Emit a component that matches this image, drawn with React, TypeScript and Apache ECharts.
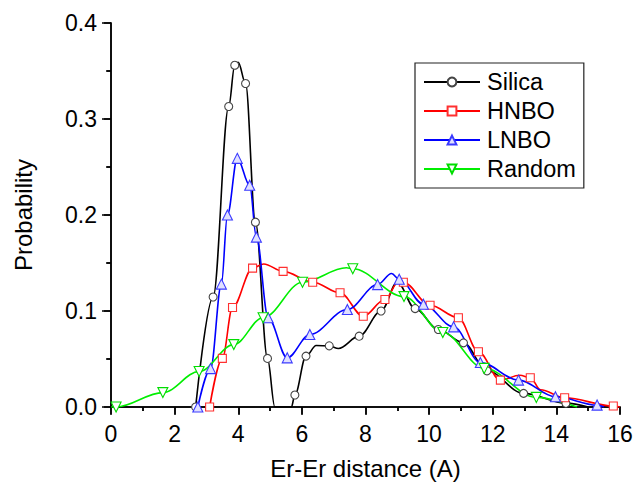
import React, { useEffect, useRef } from "react";
import * as echarts from "echarts";

// Marker points [x, y]
const silicaMarks: number[][] = [
  [2.66, 0], [3.21, 0.1146], [3.70, 0.313], [3.89, 0.356], [4.23, 0.337], [4.54, 0.1925],
  [4.92, 0.0506], [5.78, 0.0125], [6.13, 0.053], [6.86, 0.0637], [7.80, 0.0738],
  [8.49, 0.100], [9.56, 0.1025], [10.29, 0.0807], [11.08, 0.0668], [11.82, 0.0377],
  [12.97, 0.0142], [14.3, 0.004],
];
// Extra curve points (no marker)
const silicaCurve: number[][] = [
  [4.0, 0.359], [5.15, 0], [5.67, 0], [6.45, 0.064], [7.15, 0.061], [9.0, 0.130], [15.0, 0],
];

const hnboMarks: number[][] = [
  [3.10, 0], [3.50, 0.0506], [3.82, 0.1036], [4.45, 0.1447], [5.41, 0.1413], [6.34, 0.130],
  [7.20, 0.119], [7.93, 0.0945], [8.61, 0.112], [9.19, 0.130], [10.03, 0.106],
  [10.92, 0.093], [11.55, 0.0575], [12.24, 0.028], [13.18, 0.0305], [14.26, 0.0097],
  [15.79, 0.001],
];
const hnboCurve: number[][] = [
  [4.8, 0.149], [9.05, 0.131], [12.85, 0.033], [13.5, 0.018], [16.0, 0],
];

const lnboMarks: number[][] = [
  [2.73, 0], [3.13, 0.040], [3.47, 0.128], [3.66, 0.2], [3.97, 0.259], [4.36, 0.231],
  [4.57, 0.177], [4.94, 0.093], [5.54, 0.0512], [6.25, 0.0755], [7.43, 0.1015],
  [8.38, 0.1275], [9.06, 0.133], [9.82, 0.107], [10.77, 0.0835], [11.61, 0.0464],
  [12.81, 0.028], [13.97, 0.0107], [15.28, 0.002],
];
const lnboCurve: number[][] = [[8.82, 0.139], [15.5, 0]];

const randomMarks: number[][] = [
  [0.16, 0], [1.63, 0.015], [2.77, 0.037], [3.86, 0.065], [4.78, 0.093], [6.02, 0.130],
  [7.6, 0.144], [9.21, 0.115], [10.43, 0.0776], [11.73, 0.0402], [13.37, 0.010],
];
const randomCurve: number[][] = [[0, 0], [7.4, 0.145], [14.65, 0]];

const seriesNames = ["Silica", "HNBO", "LNBO", "Random"];
const xTicks = { min: 0, max: 16, interval: 2 };
const yTicks = { min: 0, max: 0.4, interval: 0.1 };

const FONT = "Liberation Sans, Arial, sans-serif";

function build(marks: number[][], curve: number[][]) {
  const all = [
    ...marks.map((p) => ({ value: p, mark: true })),
    ...curve.map((p) => ({ value: p, mark: false })),
  ].sort((a, b) => a.value[0] - b.value[0]);
  return all.map((d) => (d.mark ? { value: d.value } : { value: d.value, symbol: "none" }));
}

export default function App() {
  const ref = useRef<HTMLDivElement>(null);
  useEffect(() => {
    if (!ref.current) return;
    const chart = echarts.init(ref.current, null, { renderer: "svg" });
    const mk = (
      name: string,
      data: any[],
      color: string,
      symbol: string,
      markColor: string,
      fill: string,
      size: number
    ) => ({
      name,
      type: "line",
      data,
      smooth: 0.35,
      smoothMonotone: "x",
      symbol,
      symbolSize: size,
      showSymbol: true,
      lineStyle: { color, width: 1.6 },
      itemStyle: { color: fill, borderColor: markColor, borderWidth: 1.1 },
      emphasis: { disabled: true },
      z: 3,
    });
    const axisCommon = {
      axisLine: { show: true, lineStyle: { color: "#000", width: 1.5 } },
      splitLine: { show: false },
    };
    chart.setOption({
      animation: false,
      backgroundColor: "#fff",
      grid: { left: 111, right: 15, top: 23, bottom: 75, containLabel: false, outerBoundsMode: "none" },
      legend: {
        orient: "vertical",
        left: 415,
        top: 63,
        data: seriesNames,
        borderColor: "#222",
        borderWidth: 1.2,
        padding: [7, 8, 7, 8],
        itemGap: 5,
        itemWidth: 56,
        itemHeight: 11,
        textStyle: { fontSize: 23.5, color: "#000", fontFamily: FONT, padding: [0, 0, 0, 2] },
      },
      xAxis: [
        {
          type: "value",
          position: "bottom",
          ...xTicks,
          ...axisCommon,
          name: "Er-Er distance (A)",
          nameLocation: "middle",
          nameGap: 49,
          nameTextStyle: { fontSize: 24, color: "#000", fontFamily: FONT },
          axisTick: { show: true, inside: false, length: 8, lineStyle: { color: "#000", width: 1.5 } },
          minorTick: { show: true, splitNumber: 2, length: 4, lineStyle: { color: "#000", width: 1.5 } },
          axisLabel: { fontSize: 23, color: "#000", fontFamily: FONT, margin: 15 },
        },
        {
          type: "value",
          position: "top",
          ...xTicks,
          ...axisCommon,
          axisTick: { show: true, inside: true, length: 7, lineStyle: { color: "#000", width: 1.5 } },
          minorTick: { show: true, splitNumber: 2, length: 4, lineStyle: { color: "#000", width: 1.5 } },
          axisLabel: { show: false },
        },
      ],
      yAxis: [
        {
          type: "value",
          position: "left",
          ...yTicks,
          ...axisCommon,
          name: "Probability",
          nameLocation: "middle",
          nameGap: 76,
          nameTextStyle: { fontSize: 24, color: "#000", fontFamily: FONT },
          axisTick: { show: true, inside: false, length: 9, lineStyle: { color: "#000", width: 1.5 } },
          minorTick: { show: true, splitNumber: 2, length: 5, lineStyle: { color: "#000", width: 1.5 } },
          axisLabel: {
            fontSize: 23,
            color: "#000",
            fontFamily: FONT,
            margin: 14,
            formatter: (v: number) => v.toFixed(1),
          },
        },
        {
          type: "value",
          position: "right",
          ...yTicks,
          ...axisCommon,
          axisTick: { show: true, inside: true, length: 7, lineStyle: { color: "#000", width: 1.5 } },
          minorTick: { show: true, splitNumber: 2, length: 4, lineStyle: { color: "#000", width: 1.5 } },
          axisLabel: { show: false },
        },
      ],
      series: [
        mk(seriesNames[0], build(silicaMarks, silicaCurve), "#000", "circle", "#444", "#fff", 8),
        mk(seriesNames[1], build(hnboMarks, hnboCurve), "#ff0000", "rect", "#ff3030", "#fff", 8),
        mk(seriesNames[2], build(lnboMarks, lnboCurve), "#0000ff", "triangle", "#3a3aff", "#e0e0ff", 10),
        mk(seriesNames[3], build(randomMarks, randomCurve), "#00ee00", "path://M0,0 L10,0 L5,9 Z", "#00dd00", "#fff", 10),
      ],
    });
    return () => chart.dispose();
  }, []);
  return (
    <div
      ref={ref}
      style={{ position: "fixed", left: 0, top: 0, width: 635, height: 482, background: "#fff" }}
    />
  );
}
